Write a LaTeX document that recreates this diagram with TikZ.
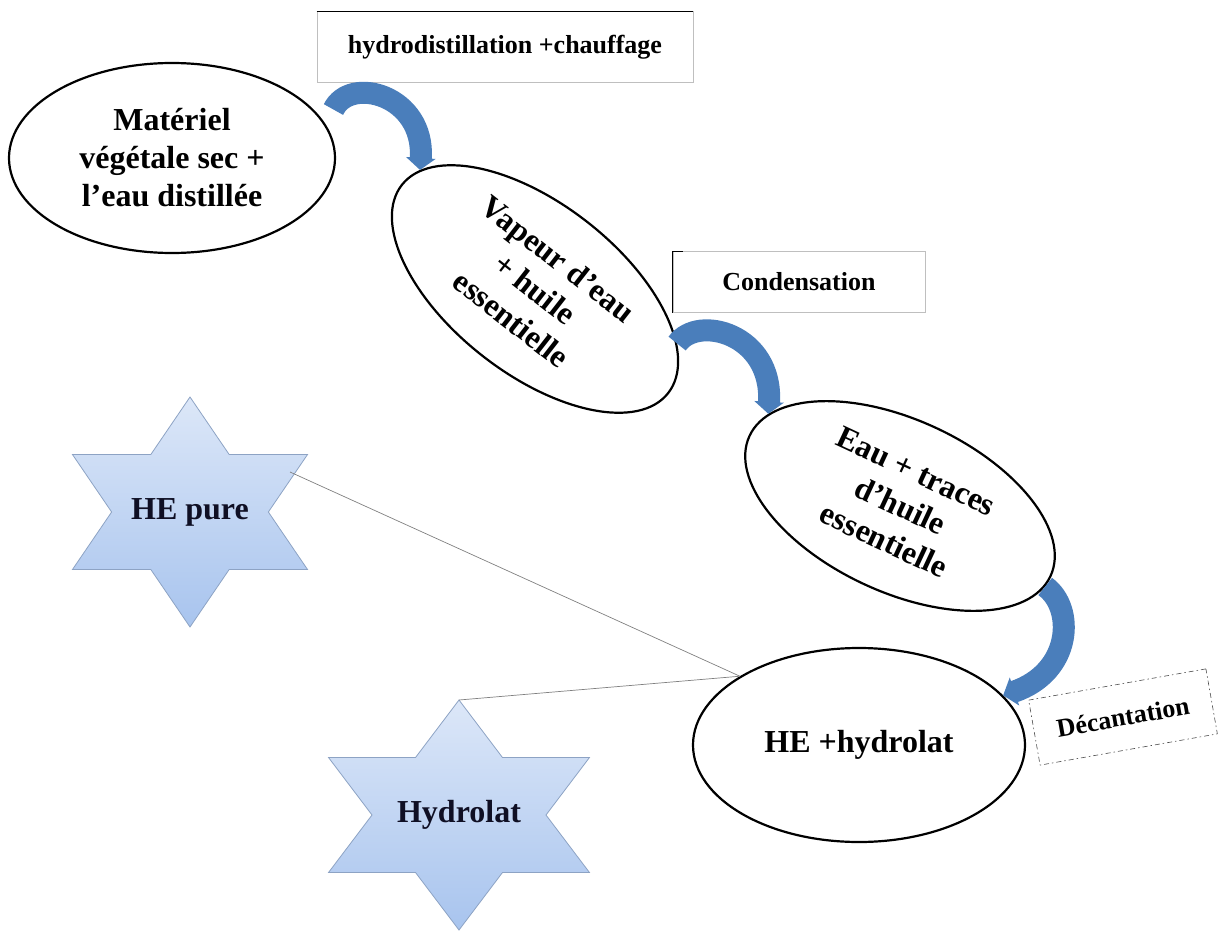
\documentclass[tikz,border=0pt]{standalone}
\usepackage{fontspec}
\setmainfont{Liberation Serif}
\usetikzlibrary{shapes.geometric,arrows.meta}
\definecolor{bleuarc}{HTML}{4A7EBB}
\definecolor{etoilehaut}{HTML}{DCE7F8}
\definecolor{etoilebas}{HTML}{A8C4EE}
\definecolor{etoilebord}{HTML}{8DA3C4}
\definecolor{encre}{HTML}{0F0F24}

\begin{document}
\begin{tikzpicture}[x=1pt, y=-1pt,
    etape/.style={ellipse, draw, line width=2.2pt, fill=white, inner sep=0pt, align=center, font=\fontsize{32}{38}\selectfont\bfseries},
    operation/.style={draw=black!25, line width=0.6pt, fill=white, inner sep=0pt, font=\fontsize{26}{30}\selectfont\bfseries},
    produit/.style={text=encre, font=\fontsize{32}{37}\selectfont\bfseries},
    etoile/.style={draw=etoilebord, line width=0.8pt, top color=etoilehaut, bottom color=etoilebas},
    fleche/.style={draw=bleuarc, line width=22pt, -{Triangle[length=12pt, width=29pt]}},
    lien/.style={draw=gray, line width=0.7pt}]
        \useasboundingbox (0,0) rectangle (1218,931);

        % etoiles des produits
        \foreach \cx/\cy/\sx in {190/512/1.18, 459/815/1.31}
            \draw[etoile, shift={(\cx,\cy)}, xscale=\sx] (0,-115) -- (33.2,-57.5) -- (99.6,-57.5) -- (66.4,0) -- (99.6,57.5) -- (33.2,57.5) -- (0,115) -- (-33.2,57.5) -- (-99.6,57.5) -- (-66.4,0) -- (-99.6,-57.5) -- (-33.2,-57.5) -- cycle;
        \node[produit] (hepure) at (190,512) {HE pure};
        \node[produit] (hydrolat) at (459,815) {Hydrolat};

        % etapes
        \node[etape, minimum width=326pt, minimum height=190pt] (materiel) at (172,158) {Matériel\\végétale sec +\\l’eau distillée};
        \node[etape, rotate=-38, minimum width=338pt, minimum height=170pt] (vapeur) at (535,289) {Vapeur d’eau\\+ huile\\essentielle};
        \node[etape, rotate=-25, minimum width=332pt, minimum height=172pt] (eau) at (900,506) {Eau + traces\\d’huile\\essentielle};
        \node[etape, minimum width=332pt, minimum height=194pt] (hehyd) at (859,745) {HE +hydrolat};

        % operations
        \node[operation, minimum width=376pt, minimum height=71pt] (hydro) at (505,47) {hydrodistillation +chauffage};
        \draw[line width=1.2pt] (hydro.north west) -- (hydro.north east);
        \node[operation, minimum width=252pt, minimum height=61pt] (condens) at (799,282) {Condensation};
        \draw[line width=1.2pt] (condens.south west) -- (condens.north west) -- ++(10,0);
        \node[operation, rotate=10, draw=black!70, dash pattern=on 5pt off 3pt on 1.5pt off 3pt, minimum width=180pt, minimum height=66pt] (decant) at (1123,717) {Décantation};

        % fleches courbes
        \draw[fleche] ([shift={(16,-4)}]materiel.17) .. controls (350,75) and (425,95) .. (vapeur.172);
        \draw[fleche] (vapeur.17) .. controls (698,314) and (773,334) .. (eau.170);
        \draw[fleche] (eau.-4) .. controls (1075,608) and (1072,672) .. (hehyd.19);

        % liens vers les produits
        \coordinate (pointe1) at ([shift={(100,-40)}]hepure.center);
        \coordinate (pointe2) at ([shift={(0,-115)}]hydrolat.center);
        \draw[lien] (pointe1) -- (hehyd.150);
        \draw[lien] (pointe2) -- (hehyd.150);
    \end{tikzpicture}
\end{document}
